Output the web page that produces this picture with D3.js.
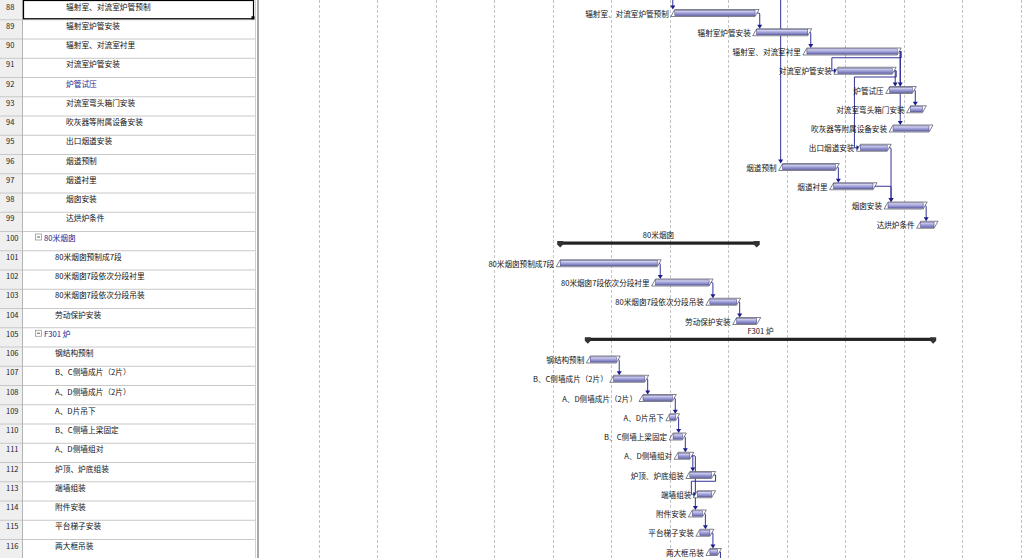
<!DOCTYPE html>
<html>
<head>
<meta charset="utf-8">
<script src="https://cdn.jsdelivr.net/npm/d3@7"></script>
<style>
  html, body { margin: 0; padding: 0; background: #fff; }
  svg { display: block; font-family: "Noto Sans CJK SC", "Noto Sans", sans-serif; }
</style>
</head>
<body>
<svg width="1023" height="558"></svg>
<script>
// Define SVG dimensions
const width = 1023
const height = 558
const rowH = 19.25
const numW = 22
const tableW = 255
const chartLeft = 260

// ---------- data ----------
const rowIds = [88, 89, 90, 91, 92, 93, 94, 95, 96, 97, 98, 99, 100, 101, 102,
  103, 104, 105, 106, 107, 108, 109, 110, 111, 112, 113, 114, 115, 116]

const taskNames = [
  "辐射室、对流室炉管预制", "辐射室炉管安装", "辐射室、对流室衬里", "对流室炉管安装",
  "炉管试压", "对流室弯头箱门安装", "吹灰器等附属设备安装", "出口烟道安装",
  "烟道预制", "烟道衬里", "烟囱安装", "达烘炉条件",
  "80米烟囱", "80米烟囱预制成7段", "80米烟囱7段依次分段衬里", "80米烟囱7段依次分段吊装",
  "劳动保护安装",
  "F301 炉", "钢结构预制", "B、C侧墙成片（2片）", "A、D侧墙成片（2片）", "A、D片吊下",
  "B、C侧墙上梁固定", "A、D侧墙组对", "炉顶、炉底组装", "端墙组装", "附件安装",
  "平台梯子安装", "两大框吊装"
]

// outline level (indent) of each row
const outlineLevel = [4, 4, 4, 4, 4, 4, 4, 4, 4, 4, 4, 4,
  2, 3, 3, 3, 3,
  2, 3, 3, 3, 3, 3, 3, 3, 3, 3, 3, 3]

// summary rows
const summaryRows = [100, 105]
// rows whose name is shown in blue in the table
const blueRows = [92, 100, 105]

// start / finish, in days from the left edge of the timescale
const startDay = [49.6, 59.4, 65.4, 69.1, 75.3, 77.8, 75.7, 71.8, 62.5, 68.6, 75.1, 79.0,
  35.9, 35.9, 47.3, 53.8, 57.0,
  39.2, 39.5, 42.3, 45.8, 49.0, 49.4, 50.0, 51.4, 52.3, 51.7, 52.6, 53.8]
const finishDay = [59.2, 65.5, 76.2, 75.6, 78.0, 79.2, 80.0, 75.0, 68.8, 73.3, 79.3, 80.6,
  59.4, 47.5, 53.7, 57.0, 59.4,
  80.5, 42.6, 46.0, 49.3, 49.7, 50.5, 51.4, 54.0, 54.0, 52.9, 53.8, 54.7]

// finish-to-start links [predecessor, successor]
const links = [
  [88, 89], [89, 90], [90, 91], [90, 92], [91, 92], [90, 94], [92, 93], [91, 95],
  [95, 98], [96, 97], [97, 98], [98, 99],
  [101, 102], [102, 103], [103, 104],
  [106, 107], [107, 108], [108, 109], [109, 110], [110, 111], [111, 112], [111, 114],
  [112, 113], [114, 115], [115, 116]
]
// links coming from tasks above the view / going to tasks below it
const linksFromAbove = [88, 96]
const linksToBelow = [116]

// weekly gridlines (days)
const weekLines = [7, 14, 21, 28, 35, 42, 49, 56, 63, 70, 77, 84, 91]

// ---------- scales ----------
const x = d3.scaleLinear().domain([0, 91]).range([chartLeft, 1021])
const y = d3.scaleBand().domain(rowIds).range([0, rowIds.length * rowH]).padding(0)

const tasks = rowIds.map((id, i) => ({
  id: id, name: taskNames[i], level: outlineLevel[i],
  start: startDay[i], finish: finishDay[i],
  summary: summaryRows.includes(id)
}))
const byId = new Map(tasks.map(t => [t.id, t]))

const svg = d3.select("svg")

svg.append("defs").html(`
  <linearGradient id="barGrad" x1="0" y1="0" x2="0" y2="1">
    <stop offset="0" stop-color="#e4e4f8"/>
    <stop offset="0.45" stop-color="#a8a8dc"/>
    <stop offset="1" stop-color="#6c6cb4"/>
  </linearGradient>`)

//################### table ####################
const table = svg.append("g")

table.append("rect")
  .attr("x", 0).attr("y", 0).attr("width", numW).attr("height", height)
  .attr("fill", "#efefef")

table.selectAll("line.row")
  .data(rowIds)
  .join("line")
  .attr("class", "row")
  .attr("x1", 0).attr("x2", tableW)
  .attr("y1", d => y(d) + rowH + 0.5).attr("y2", d => y(d) + rowH + 0.5)
  .attr("stroke", "#c8c8c8")

table.append("line")
  .attr("x1", numW + 0.5).attr("x2", numW + 0.5)
  .attr("y1", 0).attr("y2", height)
  .attr("stroke", "#b4b4b4")

table.append("line")
  .attr("x1", tableW + 0.5).attr("x2", tableW + 0.5)
  .attr("y1", 0).attr("y2", height)
  .attr("stroke", "#d0d0d0")

// splitter
svg.append("rect")
  .attr("x", 257).attr("y", 0).attr("width", 2).attr("height", height)
  .attr("fill", "#a8a8a8")

table.selectAll("text.num")
  .data(tasks)
  .join("text")
  .attr("class", "num")
  .attr("x", 6)
  .attr("y", d => y(d.id) + 6)
  .attr("dominant-baseline", "central")
  .attr("font-size", 7.5)
  .attr("fill", "#222")
  .text(d => d.id)

table.selectAll("text.name")
  .data(tasks)
  .join("text")
  .attr("class", "name")
  .attr("x", d => numW + d.level * 11)
  .attr("y", d => y(d.id) + 6)
  .attr("dominant-baseline", "central")
  .attr("font-size", 7.7)
  .attr("fill", d => blueRows.includes(d.id) ? "#1c1c90" : "#111")
  .text(d => d.name)

// collapse boxes for summary rows
const boxes = table.selectAll("g.box")
  .data(tasks.filter(d => d.summary))
  .join("g")
  .attr("class", "box")
  .attr("transform", d => `translate(${numW + d.level * 11 - 8.5},${y(d.id) + 3})`)
boxes.append("rect")
  .attr("width", 6).attr("height", 6)
  .attr("fill", "#fff").attr("stroke", "#8a8a8a").attr("stroke-width", 0.7)
boxes.append("line")
  .attr("x1", 1.5).attr("x2", 4.5).attr("y1", 3).attr("y2", 3)
  .attr("stroke", "#333").attr("stroke-width", 0.8)

// selected cell
table.append("rect")
  .attr("x", numW + 1.5).attr("y", 0.5)
  .attr("width", tableW - numW - 3).attr("height", rowH - 1)
  .attr("fill", "none").attr("stroke", "#000").attr("stroke-width", 1.2)
table.append("rect")
  .attr("x", tableW - 3.5).attr("y", rowH - 3)
  .attr("width", 3).attr("height", 3).attr("fill", "#000")

//################### chart ####################
const chart = svg.append("g")

chart.selectAll("line.grid")
  .data(weekLines)
  .join("line")
  .attr("class", "grid")
  .attr("x1", d => Math.round(x(d)) + 0.5).attr("x2", d => Math.round(x(d)) + 0.5)
  .attr("y1", 0).attr("y2", height)
  .attr("stroke", "#c4c4c4")
  .attr("stroke-dasharray", "3,2")

const linkColor = "#1c1c8c"
const barMid = id => y(id) + 13

// links
const linkG = chart.append("g")
function arrowDown(xp, yp) {
  linkG.append("path")
    .attr("d", `M${xp - 2.5},${yp - 4}L${xp + 2.5},${yp - 4}L${xp},${yp}Z`)
    .attr("fill", linkColor)
}
function arrowRight(xp, yp) {
  linkG.append("path")
    .attr("d", `M${xp - 4},${yp - 2.5}L${xp - 4},${yp + 2.5}L${xp},${yp}Z`)
    .attr("fill", linkColor)
}

links.forEach(([a, b]) => {
  const p = byId.get(a), s = byId.get(b)
  const pe = x(p.finish), ss = x(s.start)
  const yp = barMid(a), ys = barMid(b)
  if (ss < pe - 10) {
    const yTurn = y(a) + rowH
    linkG.append("path")
      .attr("d", `M${pe},${yp}H${pe + 4}V${yTurn}H${ss - 6}V${ys}H${ss - 3}`)
      .attr("fill", "none").attr("stroke", linkColor).attr("stroke-width", 0.9)
    arrowRight(ss, ys)
  } else {
    const ax = Math.max(pe + 3, ss + 3)
    linkG.append("path")
      .attr("d", `M${pe},${yp}H${ax - 1}Q${ax},${yp} ${ax},${yp + 1}V${ys - 6}`)
      .attr("fill", "none").attr("stroke", linkColor).attr("stroke-width", 0.9)
    arrowDown(ax, ys - 3.5)
  }
})

linksFromAbove.forEach(id => {
  const t = byId.get(id)
  const ax = x(t.start) - 2
  linkG.append("line")
    .attr("x1", ax).attr("x2", ax).attr("y1", 0).attr("y2", barMid(id) - 6)
    .attr("stroke", linkColor).attr("stroke-width", 0.9)
  arrowDown(ax, barMid(id) - 3.5)
})

linksToBelow.forEach(id => {
  const t = byId.get(id)
  const pe = x(t.finish)
  linkG.append("path")
    .attr("d", `M${pe},${barMid(id)}H${pe + 3}V${height}`)
    .attr("fill", "none").attr("stroke", linkColor).attr("stroke-width", 0.9)
})

// task bars
const normal = tasks.filter(d => !d.summary)
const bars = chart.selectAll("g.bar")
  .data(normal)
  .join("g")
  .attr("class", "bar")

bars.append("path")
  .attr("d", d => {
    const x0 = x(d.start), x1 = x(d.finish), yc = barMid(d.id)
    return `M${x0 - 4},${yc + 3.5}L${x0},${yc - 3.5}L${x1 + 4},${yc - 3.5}L${x1},${yc + 3.5}Z`
  })
  .attr("fill", "#fff").attr("stroke", "#4a4a5a").attr("stroke-width", 0.7)

bars.append("rect")
  .attr("x", d => x(d.start))
  .attr("y", d => barMid(d.id) - 2.6)
  .attr("width", d => x(d.finish) - x(d.start))
  .attr("height", 5.2)
  .attr("fill", "url(#barGrad)")
  .attr("stroke", "#3c3c80").attr("stroke-width", 0.5)

bars.append("text")
  .attr("x", d => x(d.start) - 6)
  .attr("y", d => barMid(d.id))
  .attr("text-anchor", "end")
  .attr("dominant-baseline", "central")
  .attr("font-size", 7.6)
  .attr("fill", "#111")
  .text(d => d.name)

// summary bars
const sums = chart.selectAll("g.sum")
  .data(tasks.filter(d => d.summary))
  .join("g")
  .attr("class", "sum")

sums.append("rect")
  .attr("x", d => x(d.start))
  .attr("y", d => y(d.id) + 10.5)
  .attr("width", d => x(d.finish) - x(d.start))
  .attr("height", 3.2)
  .attr("fill", "#222")

sums.selectAll("path")
  .data(d => [{xp: x(d.start), top: y(d.id) + 10}, {xp: x(d.finish), top: y(d.id) + 10}])
  .join("path")
  .attr("d", c => `M${c.xp - 3},${c.top}H${c.xp + 3}V${c.top + 3.5}L${c.xp},${c.top + 6.5}L${c.xp - 3},${c.top + 3.5}Z`)
  .attr("fill", "#333")

sums.append("text")
  .attr("x", d => (x(d.start) + x(d.finish)) / 2)
  .attr("y", d => y(d.id) + 3.5)
  .attr("text-anchor", "middle")
  .attr("dominant-baseline", "central")
  .attr("font-size", 7.6)
  .attr("fill", "#111")
  .text(d => d.name)
</script>
</body>
</html>
